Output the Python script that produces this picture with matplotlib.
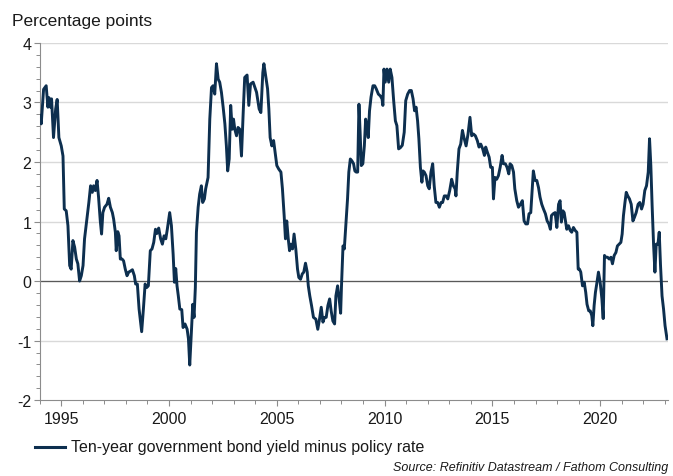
import numpy as np
import matplotlib.pyplot as plt
from matplotlib.ticker import MultipleLocator

plt.rcParams['font.family'] = ['Liberation Sans', 'DejaVu Sans']
plt.rcParams['axes.unicode_minus'] = False

# decimal year, value (percentage points)
years = [
    1994.00, 1994.07, 1994.18, 1994.30, 1994.38, 1994.43, 1994.50, 1994.55, 1994.64, 1994.74,
    1994.81, 1994.89, 1995.00, 1995.08, 1995.14, 1995.23, 1995.31, 1995.39, 1995.46, 1995.54,
    1995.62, 1995.70, 1995.77, 1995.85, 1995.93, 1996.01, 1996.08, 1996.19, 1996.28, 1996.36,
    1996.44, 1996.50, 1996.58, 1996.66, 1996.73, 1996.81, 1996.87, 1996.93, 1997.01, 1997.12,
    1997.20, 1997.28, 1997.37, 1997.43, 1997.51, 1997.55, 1997.62, 1997.68, 1997.74, 1997.82,
    1997.89, 1997.97, 1998.05, 1998.13, 1998.22, 1998.30, 1998.39, 1998.45, 1998.53, 1998.61,
    1998.73, 1998.81, 1998.89, 1998.96, 1999.04, 1999.13, 1999.21, 1999.29, 1999.37, 1999.44,
    1999.52, 1999.61, 1999.69, 1999.77, 1999.85, 1999.92, 2000.03, 2000.11, 2000.19, 2000.25,
    2000.31, 2000.37, 2000.43, 2000.50, 2000.59, 2000.65, 2000.74, 2000.84, 2000.90, 2000.96,
    2001.04, 2001.10, 2001.16, 2001.22, 2001.27, 2001.35, 2001.42, 2001.50, 2001.56, 2001.64,
    2001.70, 2001.81, 2001.89, 2001.97, 2002.04, 2002.12, 2002.20, 2002.28, 2002.35, 2002.43,
    2002.51, 2002.59, 2002.66, 2002.72, 2002.79, 2002.86, 2002.93, 2002.99, 2003.05, 2003.13,
    2003.20, 2003.28, 2003.36, 2003.44, 2003.51, 2003.62, 2003.70, 2003.78, 2003.90, 2004.06,
    2004.18, 2004.26, 2004.35, 2004.40, 2004.47, 2004.57, 2004.63, 2004.69, 2004.77, 2004.85,
    2004.92, 2005.00, 2005.09, 2005.19, 2005.26, 2005.34, 2005.40, 2005.46, 2005.53, 2005.59,
    2005.65, 2005.73, 2005.80, 2005.88, 2005.96, 2006.02, 2006.10, 2006.18, 2006.25, 2006.33,
    2006.41, 2006.46, 2006.53, 2006.61, 2006.70, 2006.81, 2006.90, 2006.98, 2007.06, 2007.14,
    2007.21, 2007.29, 2007.37, 2007.45, 2007.52, 2007.60, 2007.68, 2007.74, 2007.82, 2007.89,
    2007.96, 2008.00, 2008.07, 2008.13, 2008.20, 2008.28, 2008.34, 2008.41, 2008.48, 2008.56,
    2008.62, 2008.68, 2008.75, 2008.81, 2008.87, 2008.92, 2008.99, 2009.06, 2009.12, 2009.18,
    2009.24, 2009.30, 2009.37, 2009.46, 2009.54, 2009.61, 2009.71, 2009.80, 2009.88, 2009.92,
    2009.97, 2010.03, 2010.11, 2010.19, 2010.26, 2010.34, 2010.42, 2010.50, 2010.57, 2010.65,
    2010.73, 2010.82, 2010.91, 2010.98, 2011.07, 2011.16, 2011.24, 2011.32, 2011.39, 2011.46,
    2011.53, 2011.59, 2011.66, 2011.73, 2011.78, 2011.84, 2011.92, 2012.00, 2012.07, 2012.15,
    2012.23, 2012.30, 2012.38, 2012.46, 2012.54, 2012.62, 2012.69, 2012.77, 2012.86, 2012.93,
    2013.02, 2013.11, 2013.19, 2013.27, 2013.31, 2013.37, 2013.45, 2013.53, 2013.61, 2013.68,
    2013.78, 2013.87, 2013.96, 2014.04, 2014.12, 2014.21, 2014.30, 2014.38, 2014.46, 2014.55,
    2014.63, 2014.69, 2014.77, 2014.85, 2014.92, 2015.00, 2015.05, 2015.12, 2015.20, 2015.28,
    2015.36, 2015.45, 2015.51, 2015.60, 2015.68, 2015.76, 2015.82, 2015.90, 2015.98, 2016.04,
    2016.13, 2016.21, 2016.30, 2016.39, 2016.47, 2016.55, 2016.63, 2016.70, 2016.78, 2016.84,
    2016.90, 2016.98, 2017.06, 2017.14, 2017.21, 2017.29, 2017.37, 2017.46, 2017.54, 2017.62,
    2017.69, 2017.74, 2017.82, 2017.91, 2017.99, 2018.07, 2018.14, 2018.20, 2018.27, 2018.33,
    2018.39, 2018.45, 2018.53, 2018.61, 2018.68, 2018.76, 2018.84, 2018.92, 2018.98, 2019.04,
    2019.10, 2019.18, 2019.26, 2019.33, 2019.39, 2019.47, 2019.54, 2019.61, 2019.66, 2019.72,
    2019.78, 2019.84, 2019.92, 2020.00, 2020.08, 2020.14, 2020.20, 2020.26, 2020.34, 2020.42,
    2020.50, 2020.57, 2020.65, 2020.73, 2020.80, 2020.88, 2020.96, 2021.02, 2021.08, 2021.15,
    2021.21, 2021.28, 2021.36, 2021.44, 2021.52, 2021.59, 2021.67, 2021.76, 2021.84, 2021.92,
    2021.99, 2022.07, 2022.15, 2022.23, 2022.29, 2022.35, 2022.41, 2022.48, 2022.54, 2022.60,
    2022.68, 2022.74, 2022.80, 2022.87, 2022.94, 2023.01, 2023.10,
]
spread = [
    2.78, 2.64, 3.22, 3.28, 2.92, 3.08, 2.92, 3.06, 2.41, 2.89,
    3.05, 2.41, 2.27, 2.10, 1.21, 1.18, 0.93, 0.26, 0.20, 0.68,
    0.57, 0.37, 0.29, 0.00, 0.09, 0.26, 0.71, 1.04, 1.32, 1.60,
    1.49, 1.60, 1.52, 1.69, 1.41, 1.01, 0.79, 1.15, 1.24, 1.29,
    1.39, 1.24, 1.15, 1.04, 0.82, 0.51, 0.83, 0.76, 0.37, 0.37,
    0.34, 0.20, 0.09, 0.15, 0.17, 0.19, 0.09, -0.05, -0.05, -0.47,
    -0.85, -0.47, -0.05, -0.11, -0.08, 0.51, 0.54, 0.65, 0.87, 0.80,
    0.89, 0.71, 0.62, 0.76, 0.71, 0.87, 1.15, 0.93, 0.45, -0.02,
    0.21, -0.08, -0.25, -0.47, -0.48, -0.78, -0.72, -0.81, -0.97, -1.41,
    -0.81, -0.39, -0.61, -0.11, 0.82, 1.24, 1.46, 1.60, 1.32, 1.38,
    1.55, 1.74, 2.72, 3.25, 3.28, 3.14, 3.65, 3.39, 3.34, 3.17,
    2.92, 2.64, 2.27, 1.85, 2.05, 2.95, 2.55, 2.72, 2.55, 2.44,
    2.58, 2.55, 2.10, 2.83, 3.42, 3.46, 2.95, 3.31, 3.34, 3.17,
    2.89, 2.83, 3.50, 3.65, 3.48, 3.23, 2.89, 2.41, 2.27, 2.36,
    2.16, 1.94, 1.88, 1.83, 1.55, 1.10, 0.71, 1.01, 0.71, 0.51,
    0.62, 0.54, 0.79, 0.54, 0.20, 0.06, 0.03, 0.12, 0.15, 0.30,
    0.15, -0.08, -0.25, -0.41, -0.61, -0.64, -0.81, -0.64, -0.44, -0.69,
    -0.61, -0.61, -0.41, -0.30, -0.50, -0.67, -0.72, -0.25, -0.08, -0.30,
    -0.54, -0.08, 0.59, 0.54, 0.93, 1.38, 1.83, 2.05, 2.02, 1.97,
    1.85, 1.83, 1.83, 2.97, 2.44, 1.94, 1.97, 2.27, 2.72, 2.61,
    2.41, 2.86, 3.09, 3.28, 3.28, 3.23, 3.14, 3.11, 3.06, 2.95,
    3.56, 3.34, 3.56, 3.34, 3.56, 3.42, 3.03, 2.69, 2.61, 2.22,
    2.24, 2.28, 2.50, 3.03, 3.14, 3.20, 3.20, 3.06, 2.86, 2.92,
    2.69, 2.39, 1.91, 1.66, 1.85, 1.83, 1.77, 1.60, 1.55, 1.83,
    1.97, 1.60, 1.32, 1.32, 1.24, 1.32, 1.32, 1.43, 1.43, 1.38,
    1.52, 1.71, 1.60, 1.55, 1.43, 1.83, 2.22, 2.30, 2.53, 2.41,
    2.27, 2.47, 2.75, 2.44, 2.47, 2.44, 2.36, 2.25, 2.30, 2.22,
    2.11, 2.25, 2.16, 2.08, 1.91, 1.91, 1.38, 1.74, 1.71, 1.77,
    1.91, 2.11, 1.97, 1.97, 1.91, 1.80, 1.97, 1.94, 1.83, 1.55,
    1.35, 1.24, 1.29, 1.35, 1.01, 0.96, 0.96, 1.13, 1.15, 1.49,
    1.85, 1.69, 1.69, 1.57, 1.41, 1.29, 1.21, 1.13, 1.01, 0.96,
    0.87, 1.10, 1.13, 1.15, 0.90, 1.29, 1.35, 0.99, 1.18, 1.15,
    1.01, 0.87, 0.93, 0.85, 0.82, 0.90, 0.85, 0.82, 0.20, 0.20,
    0.15, -0.08, -0.02, -0.19, -0.39, -0.50, -0.50, -0.58, -0.75, -0.41,
    -0.19, -0.05, 0.15, -0.02, -0.30, -0.63, 0.43, 0.40, 0.40, 0.37,
    0.40, 0.29, 0.43, 0.48, 0.59, 0.62, 0.65, 0.79, 1.10, 1.32,
    1.49, 1.43, 1.38, 1.29, 1.01, 1.07, 1.15, 1.29, 1.32, 1.21,
    1.29, 1.52, 1.60, 1.83, 2.39, 1.94, 1.27, 0.59, 0.15, 0.62,
    0.62, 0.82, 0.26, -0.25, -0.47, -0.75, -0.97,
]

major_years = [1995, 2000, 2005, 2010, 2015, 2020]
line_col = '#0d2f4f'
grey = '#8c8c8c'

fig = plt.figure(figsize=(6.73, 4.77), dpi=100)
ax = fig.add_axes([0.059, 0.159, 0.934, 0.749])

ax.plot(years, spread, color=line_col, lw=2.1, solid_joinstyle='round', zorder=3)

ax.set_xlim(1994.0, 2023.16)
ax.set_ylim(-2, 4)
ax.set_xticks(major_years)
ax.xaxis.set_minor_locator(MultipleLocator(1))
ax.yaxis.set_major_locator(MultipleLocator(1))
ax.yaxis.set_minor_locator(MultipleLocator(0.2))

for v in range(-1, 5):
    ax.axhline(v, color='#d9d9d9', lw=1.0, zorder=1)
ax.axhline(0, color='#595959', lw=0.9, zorder=2)

for s in ['top', 'right']:
    ax.spines[s].set_visible(False)
for s in ['left', 'bottom']:
    ax.spines[s].set_color(grey)
    ax.spines[s].set_linewidth(0.8)

ax.tick_params(axis='both', which='major', labelsize=11.5, color=grey, length=4, width=0.8,
               labelcolor='#1a1a1a')
ax.tick_params(axis='both', which='minor', color=grey, length=3, width=0.7)
ax.tick_params(axis='y', pad=2)
ax.tick_params(axis='x', pad=4)

fig.text(0.018, 0.955, 'Percentage points', fontsize=12.5, color='#1a1a1a', va='center')

# legend row
fig.lines.append(plt.Line2D([0.052, 0.097], [0.061, 0.061], color=line_col, lw=2.2,
                            transform=fig.transFigure))
fig.text(0.105, 0.061, 'Ten-year government bond yield minus policy rate', fontsize=11.5,
         color='#1a1a1a', va='center')
fig.text(0.993, 0.018, 'Source: Refinitiv Datastream / Fathom Consulting', fontsize=9,
         style='italic', color='#1a1a1a', ha='right', va='center')

fig.savefig('out.png', dpi=100)
